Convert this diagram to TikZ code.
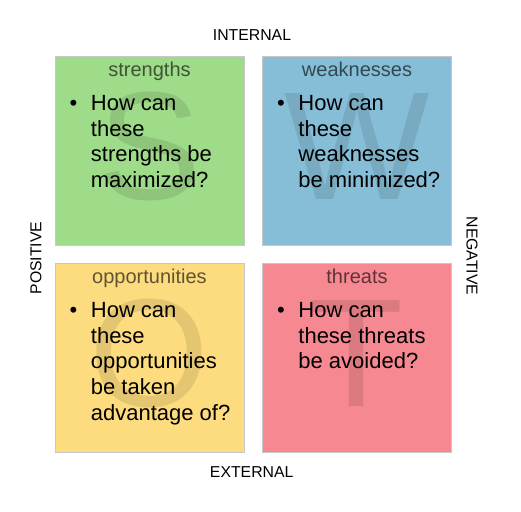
\documentclass[tikz,border=0pt]{standalone}
\usepackage{fontspec}
\setmainfont{Liberation Sans}
\usetikzlibrary{positioning}
\definecolor{sgreen}{RGB}{159,220,138}
\definecolor{wblue}{RGB}{134,190,215}
\definecolor{oyellow}{RGB}{253,220,128}
\definecolor{tred}{RGB}{246,136,145}
\definecolor{quadline}{RGB}{200,200,200}
\tikzset{
    %Define style for the four quadrants
    quad/.style={
           rectangle,
           draw=quadline,
           line width=1pt,
           minimum width=189pt,
           minimum height=189pt,
           inner sep=0pt,
           outer sep=0pt},
    %Define style for the big faded letters
    bigletter/.style={
           text=black,
           text opacity=0.1,
           font=\fontsize{154}{154}\selectfont},
    % Define style for quadrant titles
    quadtitle/.style={
           text=black,
           text opacity=0.62,
           font=\fontsize{20}{24}\selectfont},
    bulletmark/.style={
           font=\fontsize{22}{25.7}\selectfont,
           inner sep=0pt},
    question/.style={
           font=\fontsize{22}{25.7}\selectfont,
           align=left,
           inner sep=0pt},
    axis/.style={
           font=\fontsize{15.8}{18}\selectfont}
}

\begin{document}
\begin{tikzpicture}[x=1pt,y=1pt]
  \useasboundingbox (0,0) rectangle (521,-511);
  % quadrants
  \node[quad,fill=sgreen] (sbox) at (149.5,-150.5) {};
  \node[quad,fill=wblue] (wbox) at (357,-150.5) {};
  \node[quad,fill=oyellow] (obox) at (149.5,-357.5) {};
  \node[quad,fill=tred] (tbox) at (357,-357.5) {};
  % letters
  \node[bigletter] (sbig) at ([yshift=4pt]sbox.center) {S};
  \node[bigletter] (wbig) at ([yshift=4pt]wbox.center) {W};
  \node[bigletter] (obig) at ([yshift=4pt]obox.center) {O};
  \node[bigletter] (tbig) at ([yshift=4pt]tbox.center) {T};
  % titles
  \node[quadtitle,below=20.5pt of sbox.north,anchor=base] (stitle) {strengths};
  \node[quadtitle,below=20.5pt of wbox.north,anchor=base] (wtitle) {weaknesses};
  \node[quadtitle,below=20.5pt of obox.north,anchor=base] (otitle) {opportunities};
  \node[quadtitle,below=20.5pt of tbox.north,anchor=base] (ttitle) {threats};
  % questions
  \node[bulletmark,below right=54.7pt and 18.5pt of sbox.north west,anchor=base] (sdot) {\textbullet};
  \node[question,below right=39pt and 35.7pt of sbox.north west] (stext) {How can\\these\\strengths be\\maximized?};
  \node[bulletmark,below right=54.7pt and 18.5pt of wbox.north west,anchor=base] (wdot) {\textbullet};
  \node[question,below right=39pt and 35.7pt of wbox.north west] (wtext) {How can\\these\\weaknesses\\be minimized?};
  \node[bulletmark,below right=54.7pt and 18.5pt of obox.north west,anchor=base] (odot) {\textbullet};
  \node[question,below right=39pt and 35.7pt of obox.north west] (otext) {How can\\these\\opportunities\\be taken\\advantage of?};
  \node[bulletmark,below right=54.7pt and 18.5pt of tbox.north west,anchor=base] (tdot) {\textbullet};
  \node[question,below right=39pt and 35.7pt of tbox.north west] (ttext) {How can\\these threats\\be avoided?};
  % axes
  \node[axis,anchor=base] (internal) at (252,-40.7) {INTERNAL};
  \node[axis,anchor=base] (external) at (251.7,-477.5) {EXTERNAL};
  \node[axis,anchor=base,rotate=90] (positive) at (41.3,-258) {POSITIVE};
  \node[axis,anchor=base,rotate=-90] (negative) at (466.7,-256) {NEGATIVE};
\end{tikzpicture}
\end{document}
